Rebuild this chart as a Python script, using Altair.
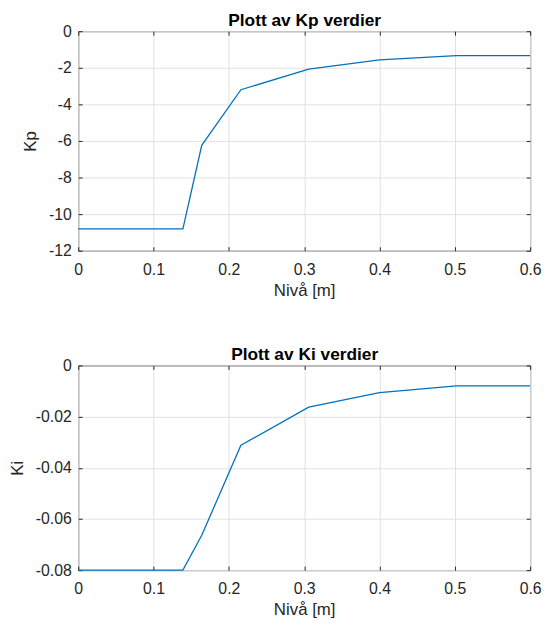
import altair as alt
import pandas as pd

# Data
niva = [0.0, 0.139, 0.164, 0.216, 0.306, 0.400, 0.502, 0.600]
kp = [-10.8, -10.8, -6.24, -3.2, -2.07, -1.57, -1.33, -1.33]
ki = [-0.08, -0.08, -0.0664, -0.0312, -0.0163, -0.0106, -0.0080, -0.0080]

x_ticks = [0, 0.1, 0.2, 0.3, 0.4, 0.5, 0.6]
kp_ticks = [0, -2, -4, -6, -8, -10, -12]
ki_ticks = [0, -0.02, -0.04, -0.06, -0.08]

df = pd.DataFrame({"niva": niva, "kp": kp, "ki": ki})

FONT = "Liberation Sans"
TXT = "#262626"
LINE = "#0072BD"
GRID = "#e2e2e2"

x_label_expr = "datum.value == 0 ? '0' : format(datum.value, '.1f')"


def panel(field, ytitle, title, domain, yticks, yfmt, height):
    ylab = "datum.value == 0 ? '0' : '-' + format(-datum.value, '%s')" % yfmt
    base = alt.Chart(df)
    main = base.mark_line(color=LINE, strokeWidth=1.3).encode(
        x=alt.X(
            "niva:Q",
            scale=alt.Scale(domain=[0, 0.6], nice=False, zero=False),
            axis=alt.Axis(
                values=x_ticks, labelExpr=x_label_expr, title="Nivå [m]",
                orient="bottom", offset=-4, tickSize=4, domain=False,
                labelPadding=11, titlePadding=5, grid=True,
            ),
        ),
        y=alt.Y(
            field + ":Q",
            scale=alt.Scale(domain=domain, nice=False, zero=False),
            axis=alt.Axis(
                values=yticks, labelExpr=ylab, title=ytitle,
                orient="left", offset=-4, tickSize=4, domain=False,
                labelPadding=7, titlePadding=9, grid=True,
            ),
        ),
    )
    # invisible twin layer: gives the inward ticks on the top/right edges
    # and carries the panel title as the top axis title
    aux = base.mark_line(opacity=0).encode(
        x=alt.X(
            "niva:Q",
            scale=alt.Scale(domain=[0, 0.6], nice=False, zero=False),
            axis=alt.Axis(
                values=x_ticks, labels=False, title=title, orient="top",
                offset=-4, tickSize=4, domain=False, grid=False,
                titleFontWeight="bold", titleColor="#000000",
                titleFontSize=17.5, titlePadding=1,
            ),
        ),
        y=alt.Y(
            field + ":Q",
            scale=alt.Scale(domain=domain, nice=False, zero=False),
            axis=alt.Axis(
                values=yticks, labels=False, title=None, orient="right",
                offset=-4, tickSize=4, domain=False, grid=False,
            ),
        ),
    )
    return (
        alt.layer(main, aux)
        .resolve_axis(x="independent", y="independent")
        .properties(width=457, height=height)
    )


top = panel("kp", "Kp", "Plott av Kp verdier", [-12, 0], kp_ticks, "d", 222)
bottom = panel("ki", "Ki", "Plott av Ki verdier", [-0.08, 0], ki_ticks, ".2f", 207)

chart = (
    alt.vconcat(top, bottom, spacing=47)
    .properties(padding=0, background="white")
    .configure_view(stroke=TXT, strokeWidth=1)
    .configure_axis(
        labelFont=FONT, titleFont=FONT, labelFontSize=16, titleFontSize=17,
        labelColor=TXT, titleColor=TXT, tickColor=TXT, gridColor=GRID,
        titleFontWeight="normal", labelFlush=False,
    )
)

chart.save("out.html", embed_options={"renderer": "svg", "actions": False})
